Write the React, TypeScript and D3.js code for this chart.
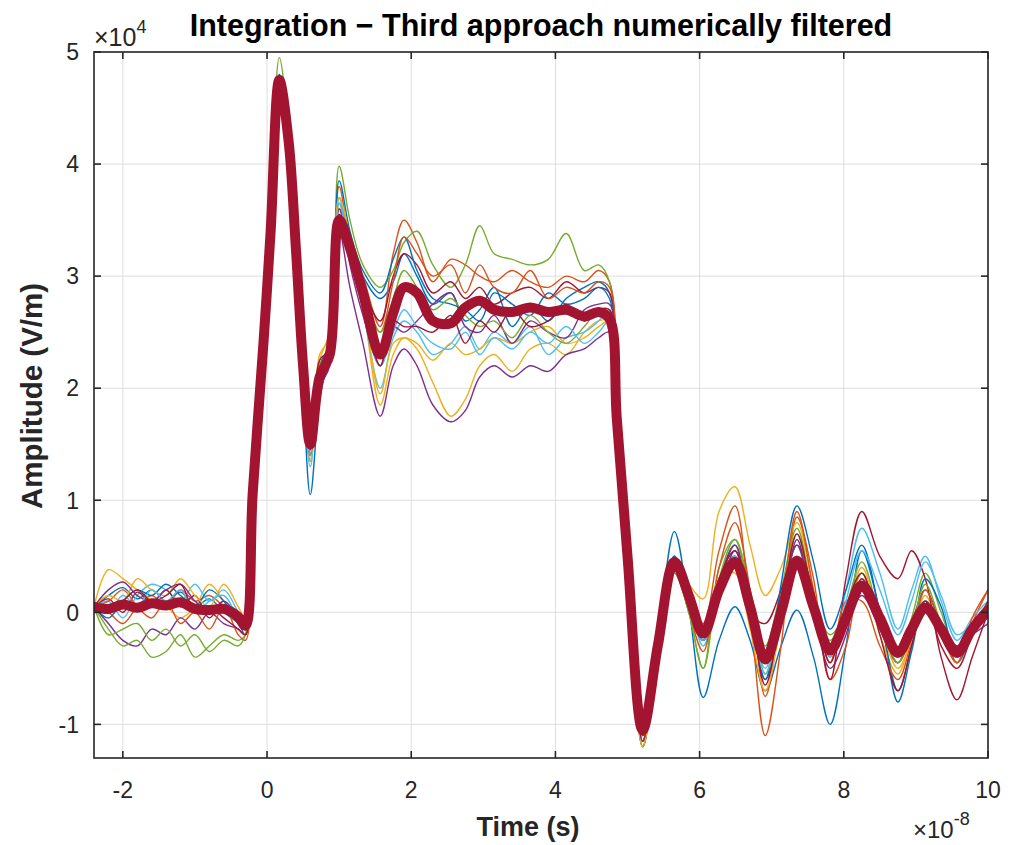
import * as d3 from 'd3';

// time axis in units of 1e-8 s
const time = [
  -2.4, -2.2, -2.0, -1.8, -1.6, -1.4, -1.2, -1.0, -0.8, -0.6, -0.4,
  -0.3, -0.2, -0.05, 0.05, 0.17,
  0.3, 0.4, 0.5, 0.6, 0.73, 0.87, 1.0,
  1.15, 1.33, 1.57, 1.75, 1.9,
  2.08, 2.3, 2.55, 2.75, 2.95, 3.15, 3.4, 3.65, 3.9, 4.15, 4.4, 4.6,
  4.75, 4.85, 5.0, 5.21, 5.42, 5.65,
  5.85, 6.05, 6.27, 6.49, 6.7, 6.91, 7.13, 7.35, 7.58, 7.81, 8.03, 8.25, 8.5, 8.75, 8.94, 9.13, 9.35, 9.57, 9.78, 10.0,
];

// amplitudes in units of 1e4 V/m
const meanTrace = [
  0.05, 0.03, 0.07, 0.04, 0.08, 0.06, 0.09, 0.03, 0.02, 0.03, -0.04,
  -0.12, 1.05, 2.4, 3.4, 4.75,
  4.2, 3.25, 2.2, 1.5, 2.1, 2.3, 3.5,
  3.25, 2.85, 2.3, 2.67, 2.9,
  2.85, 2.6, 2.58, 2.72, 2.78, 2.7, 2.68, 2.72, 2.68, 2.7, 2.64, 2.68,
  2.62, 1.74, 0.5, -1.05, -0.3, 0.45,
  0.15, -0.19, 0.2, 0.45, 0.05, -0.42, 0.0, 0.46, 0.05, -0.34, -0.05, 0.24, -0.05, -0.36, -0.15, 0.04, -0.15, -0.36, -0.15, 0.02,
];

const run01 = [
  0.05, 0.15, 0.22, 0.12, 0.2, 0.1, 0.18, 0.05, 0.12, 0.0, -0.1,
  -0.2, 0.95, 2.35, 3.4, 4.8,
  4.1, 3.1, 2.0, 1.05, 1.9, 2.35, 3.7,
  3.35, 3.0, 2.8, 2.95, 3.2,
  3.0, 2.75, 2.85, 2.6, 2.7, 2.9, 2.55, 2.75, 2.6, 2.8, 2.9, 2.95,
  2.85, 1.85, 0.55, -1.15, -0.25, 0.72,
  0.05, -0.76, -0.25, 0.05, -0.25, -0.7, -0.3, 0.02, -0.4, -1.0, -0.3, 0.55, 0.0, -0.8, -0.35, 0.1, -0.1, -0.45, -0.2, 0.0,
];
const run02 = [
  0.05, 0.0, -0.1, 0.05, 0.15, 0.05, 0.2, 0.1, 0.15, 0.05, -0.05,
  -0.1, 1.1, 2.45, 3.45, 4.7,
  4.2, 3.3, 2.3, 1.45, 2.2, 2.4, 3.8,
  3.3, 3.0, 2.55, 3.2, 3.5,
  3.3, 2.95, 3.15, 3.1, 3.0, 2.95, 3.05, 2.95, 2.9, 3.0, 2.95, 3.05,
  2.95, 1.9, 0.6, -1.2, -0.3, 0.45,
  0.15, -0.1, 0.55, 0.95, 0.0, -1.1, -0.3, 0.85, 0.3, -0.6, -0.3, 0.3, -0.1, -0.45, -0.2, 0.1, -0.2, -0.45, -0.1, 0.2,
];
const run03 = [
  0.05, 0.38, 0.3, 0.2, 0.1, 0.05, -0.05, 0.05, 0.25, 0.1, -0.1,
  -0.15, 1.0, 2.4, 3.35, 4.65,
  4.05, 3.15, 2.1, 1.4, 2.3, 2.45, 3.6,
  3.3, 2.75, 1.85, 2.3, 2.45,
  2.35, 2.05, 1.75, 1.9, 2.2, 2.3, 2.15, 2.35, 2.4, 2.3, 2.5, 2.6,
  2.6, 1.7, 0.45, -1.2, -0.4, 0.4,
  0.25, 0.12, 0.9, 1.12, 0.6, 0.15, 0.4, 0.8, 0.2, -0.35, -0.1, 0.35, -0.2, -0.55, -0.2, 0.15, -0.2, -0.4, -0.15, 0.1,
];
const run04 = [
  0.05, -0.1, -0.25, -0.3, -0.15, -0.2, -0.05, -0.15, 0.0, -0.1, -0.15,
  -0.2, 0.9, 2.3, 3.3, 4.6,
  4.0, 3.0, 2.0, 1.35, 2.0, 2.2, 3.4,
  2.9, 2.4, 1.75, 2.2, 2.35,
  2.2, 1.85, 1.7, 1.8, 2.1, 2.2, 2.1, 2.2, 2.15, 2.3, 2.35, 2.45,
  2.5, 1.6, 0.4, -1.15, -0.35, 0.35,
  0.05, -0.25, 0.15, 0.55, 0.0, -0.6, -0.1, 0.65, 0.0, -0.5, -0.2, 0.3, -0.15, -0.45, -0.1, 0.2, -0.1, -0.3, -0.2, -0.1,
];
const run05 = [
  0.05, -0.15, -0.3, -0.25, -0.4, -0.35, -0.2, -0.4, -0.3, -0.2, -0.25,
  -0.2, 1.0, 2.5, 3.55, 4.95,
  4.3, 3.35, 2.3, 1.6, 2.15, 2.4, 3.98,
  3.5, 3.1, 2.9, 3.05, 3.3,
  3.4, 3.1, 2.9, 3.1, 3.45, 3.2, 3.15, 3.1, 3.15, 3.38, 3.05, 3.1,
  2.95, 1.9, 0.6, -1.1, -0.3, 0.4,
  0.0, -0.5, 0.4, 0.65, 0.2, -0.3, 0.2, 0.75, 0.15, -0.2, 0.0, 0.35, -0.1, -0.35, -0.05, 0.35, 0.0, -0.35, -0.1, 0.05,
];
const run06 = [
  0.05, 0.1, -0.05, 0.15, 0.25, 0.2, 0.1, 0.25, 0.1, 0.2, 0.0,
  -0.1, 1.05, 2.4, 3.4, 4.75,
  4.1, 3.2, 2.1, 1.3, 2.05, 2.3, 3.7,
  3.2, 2.7, 2.0, 2.45, 2.6,
  2.5, 2.3, 2.4, 2.55, 2.35, 2.5, 2.4, 2.55, 2.3, 2.45, 2.5, 2.6,
  2.7, 1.75, 0.5, -1.1, -0.3, 0.4,
  0.1, -0.3, 0.2, 0.5, -0.05, -0.5, 0.1, 0.6, 0.1, -0.4, 0.2, 0.75, 0.35, -0.15, 0.2, 0.5, 0.1, -0.25, -0.05, 0.1,
];
const run07 = [
  0.05, 0.12, 0.0, 0.18, 0.08, 0.2, 0.05, 0.15, -0.05, 0.1, -0.05,
  -0.12, 1.05, 2.4, 3.4, 4.7,
  4.15, 3.2, 2.15, 1.45, 2.1, 2.35, 3.6,
  3.3, 2.9, 2.6, 3.0, 3.2,
  3.1, 2.85, 2.95, 2.8, 2.9, 2.75, 2.85, 2.9, 2.8, 2.95, 2.85, 2.9,
  2.85, 1.8, 0.55, -1.1, -0.3, 0.5,
  0.1, -0.2, 0.3, 0.5, 0.0, -0.1, 0.2, 0.6, 0.15, -0.6, 0.3, 0.9, 0.5, 0.3, 0.55, 0.3, -0.4, -0.78, -0.4, 0.0,
];
const run08 = [
  0.05, -0.05, 0.1, 0.2, 0.15, 0.25, 0.15, 0.05, 0.2, 0.1, -0.1,
  -0.15, 1.0, 2.4, 3.45, 4.8,
  4.2, 3.3, 2.25, 1.4, 2.2, 2.4, 3.85,
  3.4, 3.05, 2.85, 3.15, 3.35,
  3.05, 2.8, 2.75, 2.7, 2.6, 2.85, 2.75, 2.65, 2.85, 2.75, 2.8, 2.9,
  2.8, 1.8, 0.5, -1.2, -0.35, 0.5,
  0.05, -0.25, 0.25, 0.6, 0.0, -0.6, 0.25, 0.95, 0.45, -0.15, 0.2, 0.6, 0.0, -0.7, -0.3, 0.3, 0.05, -0.4, -0.15, 0.05,
];
const run09 = [
  0.05, 0.1, 0.2, 0.05, -0.05, 0.1, -0.1, 0.0, -0.15, 0.05, -0.2,
  -0.25, 1.0, 2.35, 3.35, 4.7,
  4.1, 3.2, 2.2, 1.5, 2.15, 2.3, 3.55,
  3.25, 2.9, 2.5, 2.95, 3.35,
  3.2, 3.0, 3.1, 2.85, 3.1, 2.9, 2.85, 3.05, 2.8, 2.9, 2.85, 2.95,
  2.9, 1.85, 0.55, -1.15, -0.35, 0.4,
  0.0, -0.35, 0.4, 0.8, 0.2, -0.75, 0.0, 0.9, 0.2, -0.45, 0.1, 0.1, -0.3, -0.6, -0.25, 0.2, -0.15, -0.45, -0.05, 0.2,
];
const run10 = [
  0.05, 0.15, 0.1, 0.3, 0.2, 0.15, 0.3, 0.15, 0.05, 0.25, 0.05,
  -0.05, 1.05, 2.4, 3.4, 4.7,
  4.05, 3.15, 2.15, 1.35, 2.25, 2.5, 3.7,
  3.35, 2.8, 1.95, 2.4, 2.45,
  2.4, 2.25, 2.4, 2.3, 2.35, 2.45, 2.4, 2.5, 2.55, 2.4, 2.45, 2.55,
  2.6, 1.7, 0.45, -1.2, -0.35, 0.35,
  0.05, -0.2, 0.3, 0.35, -0.15, -0.7, -0.1, 0.5, 0.0, -0.3, 0.0, 0.4, -0.1, -0.5, -0.25, 0.0, -0.2, -0.35, -0.1, 0.05,
];
const run11 = [
  0.05, 0.2, 0.27, 0.15, 0.1, 0.2, 0.25, 0.1, 0.0, 0.1, -0.05,
  -0.15, 0.95, 2.35, 3.4, 4.75,
  4.1, 3.15, 2.1, 1.4, 2.0, 2.25, 3.6,
  3.1, 2.65, 2.2, 2.55, 2.5,
  2.6, 2.75, 2.85, 2.55, 2.5, 2.65, 2.4, 2.6, 2.5, 2.45, 2.7, 2.75,
  2.75, 1.75, 0.5, -1.1, -0.3, 0.4,
  0.1, -0.2, 0.3, 0.6, 0.05, -0.45, 0.1, 0.6, 0.05, -0.3, -0.1, 0.15, -0.15, -0.4, -0.1, 0.1, -0.15, -0.3, -0.15, -0.05,
];
const run12 = [
  0.05, -0.2, -0.15, -0.1, -0.25, -0.15, -0.3, -0.2, -0.35, -0.25, -0.3,
  -0.2, 1.0, 2.4, 3.4, 4.7,
  4.15, 3.25, 2.2, 1.55, 2.2, 2.35, 3.65,
  3.25, 2.85, 2.5, 2.8, 3.05,
  2.9, 2.7, 2.8, 2.65, 2.55, 2.6, 2.45, 2.65, 2.5, 2.4, 2.55, 2.7,
  2.7, 1.8, 0.5, -1.15, -0.3, 0.35,
  0.0, -0.5, 0.3, 0.65, 0.1, -0.55, 0.05, 0.7, 0.1, -0.25, 0.05, 0.45, -0.05, -0.45, -0.15, 0.25, -0.1, -0.4, -0.15, 0.0,
];
const run13 = [
  0.05, 0.0, 0.15, 0.05, 0.2, 0.1, 0.2, 0.0, 0.1, 0.15, -0.05,
  -0.1, 1.05, 2.4, 3.4, 4.7,
  4.1, 3.2, 2.15, 1.4, 2.1, 2.3, 3.65,
  3.2, 2.75, 2.2, 2.5, 2.7,
  2.55, 2.4, 2.35, 2.5, 2.3, 2.45, 2.35, 2.5, 2.4, 2.55, 2.4, 2.5,
  2.6, 1.75, 0.5, -1.15, -0.3, 0.4,
  0.1, -0.25, 0.25, 0.5, 0.0, -0.55, 0.0, 0.5, 0.05, -0.4, 0.1, 0.55, 0.2, -0.2, 0.1, 0.45, 0.15, -0.2, -0.1, 0.05,
];
const run14 = [
  0.05, 0.0, 0.1, 0.2, 0.1, 0.15, 0.25, 0.0, 0.05, -0.05, -0.15,
  -0.2, 1.0, 2.35, 3.35, 4.7,
  4.1, 3.2, 2.15, 1.5, 2.25, 2.35, 3.55,
  3.25, 2.8, 2.2, 2.6, 2.55,
  2.55, 2.5, 2.65, 2.4, 2.6, 2.5, 2.7, 2.55, 2.6, 2.75, 2.6, 2.7,
  2.7, 1.8, 0.5, -1.15, -0.3, 0.4,
  0.1, -0.2, 0.3, 0.55, 0.05, -0.65, 0.0, 0.7, 0.1, -0.45, 0.05, 0.35, -0.2, -0.7, -0.3, 0.1, -0.3, -0.5, -0.2, 0.1,
];

const runs = [run01, run02, run03, run04, run05, run06, run07, run08, run09, run10, run11, run12, run13, run14];
const runColors = ['#0072BD', '#D95319', '#EDB120', '#7E2F8E', '#77AC30', '#4DBEEE', '#A2142F'];
const meanColor = '#A2142F';

const xTicks = [-2, 0, 2, 4, 6, 8, 10];
const yTicks = [-1, 0, 1, 2, 3, 4, 5];

const font = '"Liberation Sans", Arial, Helvetica, sans-serif';
const ink = '#262626';

export default function App() {
  const width = 1013;
  const height = 845;
  const left = 94, right = 988, top = 52, bottom = 758;

  const x = d3.scaleLinear().domain([-2.4, 10]).range([left, right]);
  const y = d3.scaleLinear().domain([-1.3, 5]).range([bottom, top]);

  const line = d3.line<number>()
    .x((_, i) => x(time[i]))
    .y(d => y(d))
    .curve(d3.curveCatmullRom.alpha(0.5));

  const tick = 7;

  return (
    <svg width={width} height={height} style={{ position: 'absolute', left: 0, top: 0, background: '#fff' }}
      fontFamily={font}>
      <defs>
        <clipPath id="plot-area">
          <rect x={left} y={top} width={right - left} height={bottom - top} />
        </clipPath>
      </defs>

      {/* grid */}
      <g stroke="#dedede" strokeWidth={1}>
        {xTicks.map(t => <line key={'gx' + t} x1={x(t)} x2={x(t)} y1={top} y2={bottom} />)}
        {yTicks.map(t => <line key={'gy' + t} x1={left} x2={right} y1={y(t)} y2={y(t)} />)}
      </g>

      {/* traces */}
      <g clipPath="url(#plot-area)" fill="none" strokeLinejoin="round" strokeLinecap="round">
        {runs.map((r, i) => (
          <path key={i} d={line(r) ?? ''} stroke={runColors[i % runColors.length]} strokeWidth={1.4} />
        ))}
        <path d={line(meanTrace) ?? ''} stroke={meanColor} strokeWidth={10} />
      </g>

      {/* box and ticks */}
      <g stroke={ink} strokeWidth={1.6} fill="none">
        <rect x={left} y={top} width={right - left} height={bottom - top} />
        {xTicks.map(t => (
          <g key={'tx' + t}>
            <line x1={x(t)} x2={x(t)} y1={bottom} y2={bottom - tick} />
            <line x1={x(t)} x2={x(t)} y1={top} y2={top + tick} />
          </g>
        ))}
        {yTicks.map(t => (
          <g key={'ty' + t}>
            <line x1={left} x2={left + tick} y1={y(t)} y2={y(t)} />
            <line x1={right} x2={right - tick} y1={y(t)} y2={y(t)} />
          </g>
        ))}
      </g>

      {/* tick labels */}
      <g fill={ink} fontSize={23}>
        {xTicks.map(t => (
          <text key={'lx' + t} x={x(t)} y={798} textAnchor="middle">{t}</text>
        ))}
        {yTicks.map(t => (
          <text key={'ly' + t} x={79} y={y(t)} dy="0.36em" textAnchor="end">{t}</text>
        ))}
      </g>

      {/* exponents */}
      <text x={94} y={46} fill={ink} fontSize={25}>
        ×10<tspan fontSize={18} dy={-13}>4</tspan>
      </text>
      <text x={913} y={838} fill={ink} fontSize={24}>
        ×10<tspan fontSize={18} dy={-13}>-8</tspan>
      </text>

      {/* labels */}
      <text x={541} y={36} textAnchor="middle" fontWeight="bold" fontSize={30.5} fill="#000">
        Integration − Third approach numerically filtered
      </text>
      <text x={528} y={836} textAnchor="middle" fontWeight="bold" fontSize={27} fill={ink}>
        Time (s)
      </text>
      <text transform="translate(42, 396) rotate(-90)" textAnchor="middle" fontWeight="bold" fontSize={29.5} fill={ink}>
        Amplitude (V/m)
      </text>
    </svg>
  );
}
